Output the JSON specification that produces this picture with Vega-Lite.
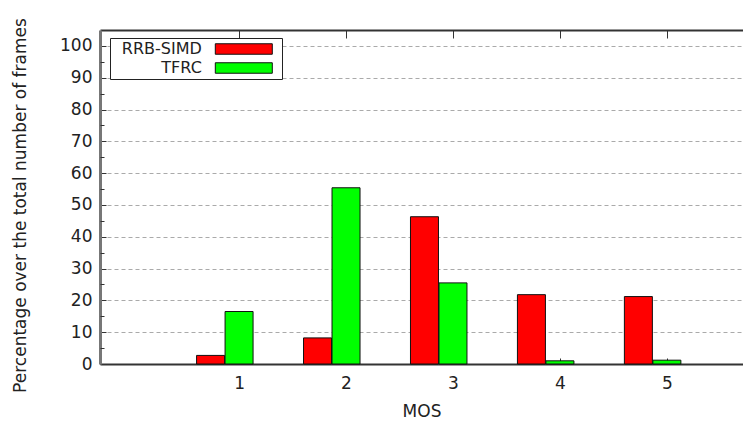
{
  "$schema": "https://vega.github.io/schema/vega-lite/v6.json",
  "width": 643,
  "height": 334,
  "autosize": {"type": "none"},
  "padding": {"left": 100, "top": 30, "right": 0, "bottom": 59},
  "background": "white",
  "config": {
    "view": {"stroke": null},
    "font": "DejaVu Sans",
    "axis": {
      "labelFont": "DejaVu Sans",
      "labelFontSize": 17,
      "labelColor": "#222",
      "titleFont": "DejaVu Sans",
      "titleFontSize": 17,
      "titleFontWeight": "normal",
      "titleColor": "#222",
      "tickColor": "#333",
      "domainColor": "#333"
    }
  },
  "data": {
    "values": [
      {"mos": 1, "series": "RRB-SIMD", "pct": 2.7},
      {"mos": 2, "series": "RRB-SIMD", "pct": 8.2},
      {"mos": 3, "series": "RRB-SIMD", "pct": 46.3},
      {"mos": 4, "series": "RRB-SIMD", "pct": 21.8},
      {"mos": 5, "series": "RRB-SIMD", "pct": 21.2},
      {"mos": 1, "series": "TFRC", "pct": 16.5},
      {"mos": 2, "series": "TFRC", "pct": 55.4},
      {"mos": 3, "series": "TFRC", "pct": 25.5},
      {"mos": 4, "series": "TFRC", "pct": 1.0},
      {"mos": 5, "series": "TFRC", "pct": 1.2}
    ]
  },
  "layer": [
    {
      "transform": [{"filter": "datum.series === 'RRB-SIMD'"}],
      "mark": {"type": "bar", "width": 28, "xOffset": -28.5, "stroke": "#111", "strokeWidth": 1},
      "encoding": {
        "x": {
          "field": "mos", "type": "quantitative",
          "scale": {"domain": [-0.2536, 5.665], "nice": false, "zero": false},
          "axis": {
            "orient": "bottom", "title": "MOS", "values": [1, 2, 3, 4, 5], "format": "d",
            "grid": false, "tickSize": -6, "labelPadding": 17, "titlePadding": 12,
            "domainWidth": 2
          }
        },
        "y": {
          "field": "pct", "type": "quantitative",
          "scale": {"domain": [0, 105], "nice": false},
          "axis": {
            "orient": "left", "title": "Percentage over the total number of frames",
            "values": [0, 10, 20, 30, 40, 50, 60, 70, 80, 90, 100],
            "tickSize": -6, "labelPadding": 14,
            "grid": true, "gridColor": "#aaa", "gridDash": [4, 3], "gridWidth": 1,
            "domainWidth": 3, "domainColor": "#777",
            "titleX": -80, "titleY": 175, "titleBaseline": "middle", "titleAngle": -90
          }
        },
        "color": {
          "field": "series", "type": "nominal",
          "scale": {"domain": ["RRB-SIMD", "TFRC"], "range": ["#ff0000", "#00ff00"]},
          "legend": {
            "orient": "none", "legendX": 10, "legendY": 8, "title": null,
            "symbolType": "M-5.435,-1H5.435V1H-5.435Z M6.3,0Z", "symbolSize": 110,
            "symbolStrokeColor": "#222", "symbolStrokeWidth": 1, "symbolOpacity": 1,
            "symbolOffset": 122.8,
            "labelAlign": "right", "labelOffset": -50, "labelFontSize": 16,
            "labelFont": "DejaVu Sans", "labelColor": "#222",
            "fillColor": "white", "strokeColor": "#222", "padding": 3, "rowPadding": 3
          }
        }
      }
    },
    {
      "transform": [{"filter": "datum.series === 'TFRC'"}],
      "mark": {"type": "bar", "width": 28, "xOffset": 0, "stroke": "#111", "strokeWidth": 1},
      "encoding": {
        "x": {
          "field": "mos", "type": "quantitative",
          "axis": {
            "orient": "top", "title": null, "values": [1, 2, 3, 4, 5], "labels": false,
            "grid": false, "tickSize": -8, "domainWidth": 2
          }
        },
        "y": {
          "field": "pct", "type": "quantitative",
          "axis": {
            "orient": "left", "title": null, "values": [5, 15, 25, 35, 45, 55, 65, 75, 85, 95],
            "labels": false, "grid": false, "domain": false, "tickSize": -4
          }
        },
        "color": {"field": "series", "type": "nominal"}
      }
    }
  ],
  "resolve": {"axis": {"x": "independent", "y": "independent"}}
}
